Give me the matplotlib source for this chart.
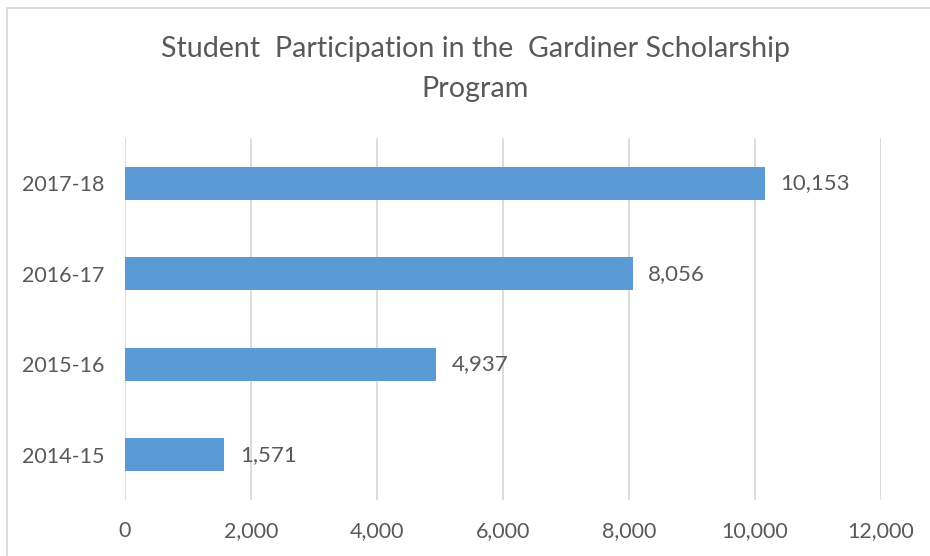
import matplotlib
matplotlib.use("Agg")
import matplotlib.pyplot as plt
from matplotlib.patches import Rectangle

categories = ["2014-15", "2015-16", "2016-17", "2017-18"]
values = [1571, 4937, 8056, 10153]
xticks = [0, 2000, 4000, 6000, 8000, 10000, 12000]
title = "Student  Participation in the  Gardiner Scholarship\nProgram"

plt.rcParams['font.family'] = ['Lato', 'DejaVu Sans']
W, H = 930, 556
fig = plt.figure(figsize=(W/100, H/100), dpi=100)
ax = fig.add_axes([125/W, 1-500/H, (881-125)/W, (500-138)/H])

txt = '#595959'
fs = 15.5
ax.barh(range(len(categories)), values, height=0.36, color='#5B9BD5', zorder=3)
for i, v in enumerate(values):
    ax.text(v + 250, i, f"{v:,}", va='center', ha='left', fontsize=fs+0.5, color=txt)

ax.set_xlim(0, 12000)
ax.set_ylim(-0.5, len(categories)-0.5)
ax.set_xticks(xticks)
ax.set_xticklabels([f"{t:,}" for t in xticks], fontsize=fs, color=txt)
ax.set_yticks(range(len(categories)))
ax.set_yticklabels(categories, fontsize=fs, color=txt)
ax.tick_params(length=0, pad=15, axis='x')
ax.tick_params(length=0, pad=15, axis='y')
ax.grid(axis='x', color='#D9D9D9', linewidth=1.3, zorder=0)
for s in ax.spines.values():
    s.set_visible(False)

fig.text(475/W, 1-69/H, title, ha='center', va='center', fontsize=20.6,
         color=txt, linespacing=1.68)
fig.patches.append(Rectangle((7/W, -0.1), 1.2, 1+0.1-8/H, transform=fig.transFigure,
                             fill=False, edgecolor='#D9D9D9', linewidth=1.3))
fig.savefig("out.png", dpi=100)
